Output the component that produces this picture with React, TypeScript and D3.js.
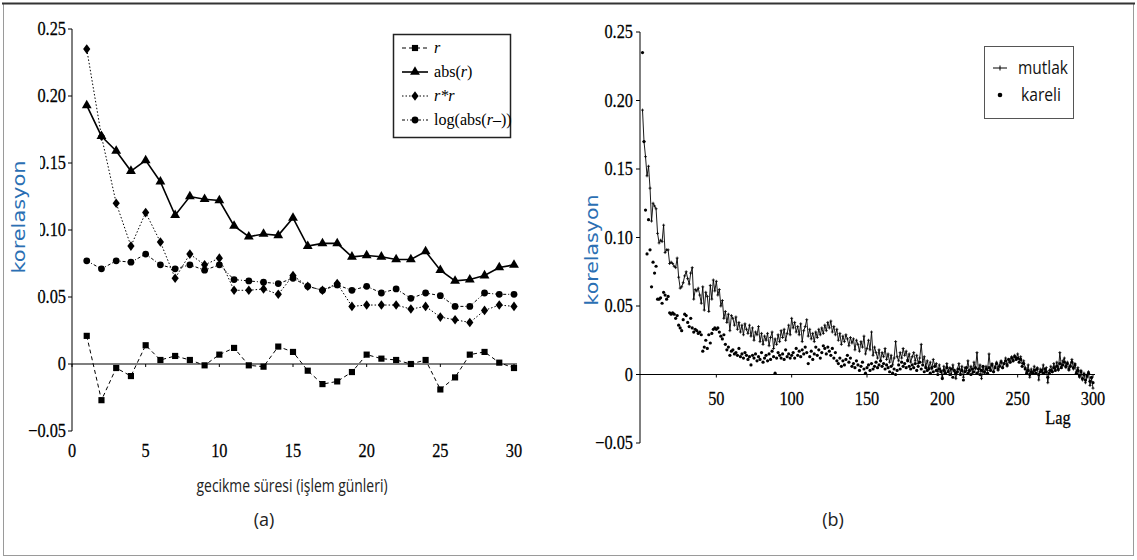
import React from "react";
import * as d3 from "d3";

// ---------- Panel (a) data ----------
const lagsA = d3.range(1, 31);
const rVals = [0.021, -0.027, -0.003, -0.009, 0.014, 0.003, 0.006, 0.003, -0.001, 0.007, 0.012, -0.001, -0.002, 0.013, 0.009, -0.005, -0.015, -0.013, -0.006, 0.007, 0.004, 0.003, 0.000, 0.003, -0.019, -0.010, 0.007, 0.009, 0.001, -0.003];
const absVals = [0.193, 0.170, 0.159, 0.144, 0.152, 0.136, 0.111, 0.125, 0.123, 0.122, 0.103, 0.095, 0.097, 0.096, 0.109, 0.088, 0.090, 0.090, 0.080, 0.081, 0.080, 0.078, 0.078, 0.084, 0.070, 0.062, 0.063, 0.066, 0.072, 0.074];
const sqVals = [0.235, 0.170, 0.120, 0.088, 0.113, 0.091, 0.064, 0.082, 0.074, 0.079, 0.055, 0.055, 0.056, 0.052, 0.066, 0.058, 0.055, 0.060, 0.043, 0.044, 0.044, 0.044, 0.041, 0.043, 0.035, 0.033, 0.031, 0.040, 0.044, 0.043];
const logVals = [0.077, 0.071, 0.077, 0.076, 0.082, 0.074, 0.071, 0.074, 0.070, 0.074, 0.063, 0.062, 0.061, 0.060, 0.064, 0.058, 0.055, 0.059, 0.055, 0.058, 0.053, 0.056, 0.049, 0.053, 0.051, 0.043, 0.043, 0.053, 0.052, 0.052];
const xTicksA = [0, 5, 10, 15, 20, 25, 30];
const yTicks = [-0.05, 0, 0.05, 0.1, 0.15, 0.2, 0.25];
const yTickLabels = ["\u22120.05", "0", "0.05", "0.10", "0.15", "0.20", "0.25"];

// ---------- Panel (b) data ----------
const mutlak = [
  0.193, 0.170, 0.159, 0.145, 0.152, 0.136, 0.112, 0.125, 0.123, 0.121,
  0.103, 0.096, 0.098, 0.097, 0.109, 0.089, 0.091, 0.091, 0.081, 0.082,
  0.081, 0.079, 0.078, 0.085, 0.071, 0.063, 0.064, 0.067, 0.072, 0.075,
  0.070, 0.066, 0.074, 0.078, 0.055, 0.062, 0.061, 0.063, 0.058, 0.052,
  0.064, 0.047, 0.060, 0.057, 0.046, 0.065, 0.055, 0.069, 0.061, 0.068,
  0.058, 0.062, 0.050, 0.054, 0.041, 0.046, 0.038, 0.044, 0.032, 0.043,
  0.041, 0.036, 0.042, 0.033, 0.038, 0.031, 0.036, 0.029, 0.037, 0.033,
  0.030, 0.036, 0.028, 0.034, 0.025, 0.031, 0.029, 0.035, 0.024, 0.030,
  0.022, 0.028, 0.025, 0.030, 0.021, 0.027, 0.031, 0.019, 0.026, 0.022,
  0.029, 0.024, 0.032, 0.027, 0.033, 0.025, 0.030, 0.036, 0.029, 0.041,
  0.034, 0.038, 0.031, 0.035, 0.029, 0.037, 0.024, 0.032, 0.035, 0.040,
  0.028, 0.033, 0.026, 0.030, 0.024, 0.031, 0.027, 0.033, 0.029, 0.034,
  0.030, 0.036, 0.032, 0.038, 0.034, 0.039, 0.031, 0.035, 0.029, 0.033,
  0.025, 0.030, 0.022, 0.028, 0.024, 0.029, 0.026, 0.021, 0.027, 0.023,
  0.026, 0.018, 0.025, 0.022, 0.017, 0.024, 0.020, 0.028, 0.015, 0.019,
  0.025, 0.018, 0.031, 0.014, 0.020, 0.016, 0.012, 0.018, 0.010, 0.016,
  0.013, 0.019, 0.011, 0.015, 0.009, 0.014, 0.007, 0.012, 0.024, 0.013,
  0.010, 0.016, 0.012, 0.019, 0.014, 0.017, 0.011, 0.015, 0.009, 0.013,
  0.016, 0.010, 0.014, 0.008, 0.012, 0.022, 0.009, 0.013, 0.006, 0.010,
  0.005, 0.009, 0.004, 0.011, 0.006, 0.008, 0.002, 0.007, 0.003, -0.002,
  0.006, 0.001, 0.008, 0.003, 0.005, 0.000, 0.007, 0.002, -0.003, 0.004,
  0.008, 0.001, 0.006, -0.002, 0.005, 0.003, 0.010, 0.002, 0.006, 0.001,
  0.009, 0.004, 0.016, 0.002, 0.007, -0.003, 0.005, 0.001, 0.006, 0.003,
  0.015, 0.004, 0.008, 0.002, 0.006, 0.009, 0.003, 0.007, 0.010, 0.005,
  0.008, 0.012, 0.006, 0.011, 0.009, 0.013, 0.010, 0.014, 0.012, 0.015,
  0.011, 0.013, 0.008, 0.010, 0.005, 0.002, 0.007, -0.002, 0.004, 0.001,
  0.006, 0.003, 0.005, -0.004, 0.004, 0.002, 0.007, 0.001, 0.005, -0.006,
  0.003, 0.006, 0.002, 0.008, 0.004, 0.009, 0.003, 0.016, 0.006, 0.010,
  0.012, 0.005, 0.009, 0.003, 0.007, 0.011, 0.004, 0.008, 0.002, 0.005,
  -0.002, 0.003, -0.004, 0.001, -0.006, -0.002, 0.002, -0.008, -0.003, -0.010,
];
const kareli = [
  0.235, 0.170, 0.120, 0.088, 0.113, 0.091, 0.064, 0.082, 0.074, 0.079,
  0.055, 0.055, 0.056, 0.052, 0.060, 0.058, 0.055, 0.057, 0.045, 0.044,
  0.045, 0.044, 0.041, 0.043, 0.036, 0.034, 0.032, 0.040, 0.044, 0.043,
  0.038, 0.035, 0.041, 0.034, 0.031, 0.033, 0.032, 0.030, 0.031, 0.029,
  0.017, 0.020, 0.025, 0.019, 0.029, 0.023, 0.030, 0.033, 0.034, 0.033,
  0.034, 0.031, 0.028, 0.026, 0.029, 0.022, 0.018, 0.020, 0.014, 0.017,
  0.018, 0.015, 0.016, 0.014, 0.019, 0.013, 0.015, 0.012, 0.016, 0.014,
  0.011, 0.013, 0.007, 0.014, 0.012, 0.015, 0.010, 0.013, 0.011, 0.016,
  0.009, 0.012, 0.014, 0.010, 0.015, 0.011, 0.017, 0.013, 0.001, 0.012,
  0.016, 0.014, 0.012, 0.015, 0.011, 0.018, 0.013, 0.015, 0.012, 0.014,
  0.016, 0.012, 0.019, 0.014, 0.017, 0.013, 0.018, 0.015, 0.020, 0.016,
  0.008, 0.013, 0.017, 0.011, 0.015, 0.020, 0.014, 0.018, 0.012, 0.016,
  0.021, 0.019, 0.015, 0.020, 0.017, 0.014, 0.019, 0.012, 0.016, 0.010,
  0.008, 0.012, 0.006, 0.010, 0.007, 0.011, 0.014, 0.009, 0.012, 0.006,
  0.008, 0.005, 0.010, 0.007, 0.003, 0.006, 0.009, 0.004, 0.001, 0.005,
  0.007, 0.003, 0.008, 0.004, 0.006, 0.009, 0.005, 0.007, 0.010, 0.006,
  0.008, 0.004, 0.007, 0.005, 0.002, 0.006, 0.001, 0.004, 0.000, 0.003,
  0.007, 0.004, 0.009, 0.006, 0.008, 0.005, 0.010, 0.006, 0.004, 0.007,
  0.005, 0.008, 0.003, 0.006, 0.009, 0.004, 0.007, 0.002, 0.005, 0.003,
  0.004, 0.001, 0.005, 0.002, 0.006, 0.003, 0.000, 0.004, 0.002, -0.003,
  0.003, 0.001, 0.005, 0.002, 0.000, 0.004, -0.002, 0.003, 0.001, 0.002,
  0.004, 0.000, 0.003, -0.004, 0.002, 0.005, 0.001, 0.003, 0.000, 0.004,
  0.002, 0.005, 0.001, 0.004, 0.000, 0.003, 0.006, 0.002, 0.004, 0.001,
  0.005, 0.003, 0.007, 0.002, 0.005, 0.008, 0.004, 0.006, 0.009, 0.005,
  0.008, 0.010, 0.007, 0.011, 0.009, 0.012, 0.010, 0.013, 0.011, 0.012,
  0.009, 0.011, 0.006, 0.008, 0.004, 0.001, 0.003, 0.000, 0.002, 0.001,
  0.003, 0.001, 0.004, 0.000, 0.002, 0.003, 0.001, 0.004, 0.002, -0.002,
  0.001, 0.003, 0.002, 0.005, 0.003, 0.006, 0.004, 0.008, 0.005, 0.007,
  0.009, 0.006, 0.008, 0.004, 0.006, 0.009, 0.005, 0.007, 0.001, 0.003,
  -0.001, 0.002, -0.003, 0.000, -0.004, -0.001, 0.001, -0.005, -0.002, -0.006,
];
const lagsB = d3.range(1, 301);
const xTicksB = [50, 100, 150, 200, 250, 300];

const SERIF = "Liberation Serif, Times New Roman, serif";
const SANS = "Open Sans, Noto Sans, sans-serif";
const BLUE = "#2b6fb3";

const xA = d3.scaleLinear().domain([0, 30]).range([72, 514]);
const yA = d3.scaleLinear().domain([-0.05, 0.25]).range([431, 29]);
const xB = d3.scaleLinear().domain([0, 300]).range([641, 1093]);
const yB = d3.scaleLinear().domain([-0.05, 0.25]).range([443, 32]);

const diamond = "M0,-4.8L3.6,0L0,4.8L-3.6,0Z";
const squareP = d3.symbol().type(d3.symbolSquare).size(38)()!;
const triP = d3.symbol().type(d3.symbolTriangle).size(42)()!;

type Ser = { vals: number[]; dash: string; width: number; marker: string };
const seriesA: Ser[] = [
  { vals: rVals, dash: "4,3", width: 1, marker: "square" },
  { vals: absVals, dash: "", width: 1.6, marker: "tri" },
  { vals: sqVals, dash: "1.5,2", width: 1, marker: "diamond" },
  { vals: logVals, dash: "3,2,1,2", width: 1, marker: "circle" },
];

function Marker({ kind, x, y }: { kind: string; x: number; y: number }) {
  if (kind === "circle") return <circle cx={x} cy={y} r={3.4} fill="#000" />;
  const d = kind === "square" ? squareP : kind === "tri" ? triP : diamond;
  return <path d={d} transform={`translate(${x},${y})`} fill="#000" />;
}

function TickText({ x, y, anchor, children }: { x: number; y: number; anchor: string; children: React.ReactNode }) {
  return (
    <text
      transform={`translate(${x},${y}) scale(0.86,1)`}
      textAnchor={anchor}
      fontFamily={SERIF}
      fontSize={19}
      fill="#000"
      stroke="#000"
      strokeWidth={0.25}
    >
      {children}
    </text>
  );
}

function LegendLabel({ idx }: { idx: number }) {
  if (idx === 0) return <tspan fontStyle="italic">r</tspan>;
  if (idx === 1)
    return (
      <>
        <tspan>abs(</tspan>
        <tspan fontStyle="italic">r</tspan>
        <tspan>)</tspan>
      </>
    );
  if (idx === 2) return <tspan fontStyle="italic">r*r</tspan>;
  return (
    <>
      <tspan>log(abs(</tspan>
      <tspan fontStyle="italic">r</tspan>
      <tspan>{"\u2013))"}</tspan>
    </>
  );
}

export default function App() {
  const lineA = (vals: number[]) =>
    d3.line<number>().x((_, i) => xA(lagsA[i])).y((v) => yA(v))(vals)!;
  const lineB = d3.line<number>().x((_, i) => xB(lagsB[i])).y((v) => yB(v))(mutlak)!;

  return (
    <svg width={1137} height={560} style={{ position: "absolute", left: 0, top: 0, background: "#fff" }}>
      <rect x={0} y={0} width={1137} height={560} fill="#fff" />
      {/* outer frame */}
      <rect x={3.5} y={3.5} width={1130} height={552} fill="none" stroke="#9a9a9a" strokeWidth={1} />
      <line x1={2} x2={1135} y1={3.5} y2={3.5} stroke="#333" strokeWidth={2} />

      {/* ===== Panel (a) ===== */}
      <line x1={72} x2={72} y1={yA(0.25)} y2={yA(-0.05)} stroke="#000" strokeWidth={1} />
      {yTicks.map((t, i) => (
        <g key={"ya" + i}>
          <line x1={68} x2={72} y1={yA(t)} y2={yA(t)} stroke="#000" />
          <TickText x={66} y={yA(t) + 6} anchor="end">
            {yTickLabels[i]}
          </TickText>
        </g>
      ))}
      <line x1={72} x2={517} y1={yA(0)} y2={yA(0)} stroke="#000" strokeWidth={1.2} />
      {xTicksA.map((t) => (
        <g key={"xa" + t}>
          <line x1={xA(t)} x2={xA(t)} y1={yA(0)} y2={yA(0) + 3} stroke="#000" />
          <TickText x={xA(t)} y={457} anchor="middle">
            {t}
          </TickText>
        </g>
      ))}
      {seriesA.map((s, k) => (
        <g key={"sa" + k}>
          <path d={lineA(s.vals)} fill="none" stroke="#000" strokeWidth={s.width} strokeDasharray={s.dash} />
          {s.vals.map((v, i) => (
            <Marker key={i} kind={s.marker} x={xA(lagsA[i])} y={yA(v)} />
          ))}
        </g>
      ))}
      {/* legend (a) */}
      <rect x={393.5} y={34.5} width={117} height={103} fill="#fff" stroke="#222" strokeWidth={1.5} />
      {seriesA.map((s, k) => {
        const ly = 48 + k * 24;
        return (
          <g key={"la" + k}>
            <line x1={402} x2={428} y1={ly} y2={ly} stroke="#000" strokeWidth={s.width} strokeDasharray={s.dash} />
            <Marker kind={s.marker} x={415} y={ly} />
            <text x={434} y={ly + 5} fontFamily={SERIF} fontSize={17.5} transform={`translate(${434 * 0.08},0) scale(0.92,1)`}>
              <LegendLabel idx={k} />
            </text>
          </g>
        );
      })}
      {/* y label (a) with covering background */}
      <rect x={6} y={150} width={34} height={142} fill="#fff" />
      <text
        transform="translate(25,217) rotate(-90)"
        textAnchor="middle"
        fontFamily="DejaVu Sans, Verdana, sans-serif"
        fontSize={17}
        fill={BLUE}
        textLength={113}
        lengthAdjust="spacingAndGlyphs"
      >
        korelasyon
      </text>
      <text x={292} y={492} textAnchor="middle" fontFamily={SANS} fontSize={18} fill="#222" textLength={191} lengthAdjust="spacingAndGlyphs">
        gecikme süresi (işlem günleri)
      </text>
      <text x={264} y={526} textAnchor="middle" fontFamily={SANS} fontSize={18} fill="#222">
        (a)
      </text>

      {/* ===== Panel (b) ===== */}
      <line x1={640} x2={640} y1={yB(0.25)} y2={yB(-0.05)} stroke="#000" strokeWidth={1} />
      {yTicks.map((t, i) => (
        <g key={"yb" + i}>
          <line x1={636} x2={640} y1={yB(t)} y2={yB(t)} stroke="#000" />
          <TickText x={633} y={yB(t) + 6} anchor="end">
            {yTickLabels[i]}
          </TickText>
        </g>
      ))}
      <line x1={640} x2={1095} y1={yB(0)} y2={yB(0)} stroke="#000" strokeWidth={1.2} />
      {xTicksB.map((t) => (
        <g key={"xb" + t}>
          <line x1={xB(t)} x2={xB(t)} y1={yB(0)} y2={yB(0) + 3} stroke="#000" />
          <TickText x={xB(t)} y={405} anchor="middle">
            {t}
          </TickText>
        </g>
      ))}
      <TickText x={1058} y={424} anchor="middle">
        Lag
      </TickText>
      <path d={lineB} fill="none" stroke="#000" strokeWidth={0.9} />
      {mutlak.map((v, i) => (
        <path
          key={"mp" + i}
          d={`M${xB(lagsB[i]) - 1.5},${yB(v)}h3M${xB(lagsB[i])},${yB(v) - 1.5}v3`}
          stroke="#000"
          strokeWidth={0.8}
        />
      ))}
      {kareli.map((v, i) => (
        <circle key={"kd" + i} cx={xB(lagsB[i])} cy={yB(v)} r={1.6} fill="#000" />
      ))}
      {/* legend (b) */}
      <rect x={984.5} y={46.5} width={89} height={72} fill="#fff" stroke="#555" strokeWidth={1} />
      <line x1={993} x2={1007} y1={68} y2={68} stroke="#000" strokeWidth={1} />
      <line x1={1000} x2={1000} y1={65.5} y2={70.5} stroke="#000" strokeWidth={1} />
      <text x={1018} y={74} fontFamily={SANS} fontSize={18} fill="#111" textLength={50} lengthAdjust="spacingAndGlyphs">
        mutlak
      </text>
      <circle cx={1000} cy={95} r={2.3} fill="#000" />
      <text x={1021} y={101} fontFamily={SANS} fontSize={18} fill="#111" textLength={40} lengthAdjust="spacingAndGlyphs">
        kareli
      </text>
      <text
        transform="translate(598,250) rotate(-90)"
        textAnchor="middle"
        fontFamily="DejaVu Sans, Verdana, sans-serif"
        fontSize={17}
        fill={BLUE}
        textLength={111}
        lengthAdjust="spacingAndGlyphs"
      >
        korelasyon
      </text>
      <text x={833} y={526} textAnchor="middle" fontFamily={SANS} fontSize={18} fill="#222">
        (b)
      </text>
    </svg>
  );
}
